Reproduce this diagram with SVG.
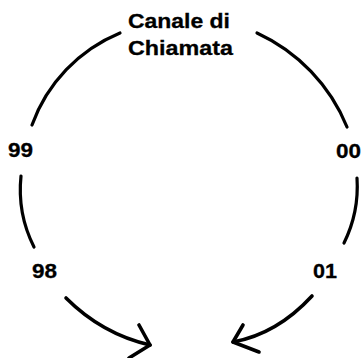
<svg xmlns="http://www.w3.org/2000/svg" width="363" height="358" viewBox="0 0 363 358">
  <style>
    .lbl { font-family: "Liberation Sans", Arial, sans-serif; font-weight: bold; font-size: 21px; fill: #000; stroke: #000; stroke-width: 0.3; }
    .arc { fill: none; stroke: #000; stroke-width: 3.2; stroke-linecap: round; stroke-linejoin: round; }
    .arr { fill: none; stroke: #000; stroke-width: 3.6; stroke-linecap: round; stroke-linejoin: round; }
  </style>
  <rect width="363" height="358" fill="#fff"/>
  <g id="canale">
    <text class="lbl" x="128" y="28" textLength="102" lengthAdjust="spacingAndGlyphs">Canale di</text>
    <text class="lbl" x="128" y="55" textLength="105" lengthAdjust="spacingAndGlyphs">Chiamata</text>
  </g>
  <g id="n99"><text class="lbl" x="8" y="157" textLength="25" lengthAdjust="spacingAndGlyphs">99</text></g>
  <g id="n00"><text class="lbl" x="336" y="158" textLength="25" lengthAdjust="spacingAndGlyphs">00</text></g>
  <g id="n98"><text class="lbl" x="32" y="278" textLength="25" lengthAdjust="spacingAndGlyphs">98</text></g>
  <g id="n01"><text class="lbl" x="313" y="278" textLength="24" lengthAdjust="spacingAndGlyphs">01</text></g>
  <g id="connectors">
    <path class="arc" d="M120,33 A157,157 0 0 0 32,125"/>
    <path class="arc" d="M257,33 A177,177 0 0 1 347,127"/>
    <path class="arc" d="M21,176 A128,128 0 0 0 34,247"/>
    <path class="arc" d="M357,178 A128,128 0 0 1 344,243"/>
    <path class="arr" d="M66,298 Q102,334 150,345"/>
    <path class="arr" d="M139,325 L150,345 L129,358"/>
    <path class="arr" d="M312,296 Q277,334 233,342"/>
    <path class="arr" d="M243,325 L233,342 L259,352"/>
  </g>
</svg>
